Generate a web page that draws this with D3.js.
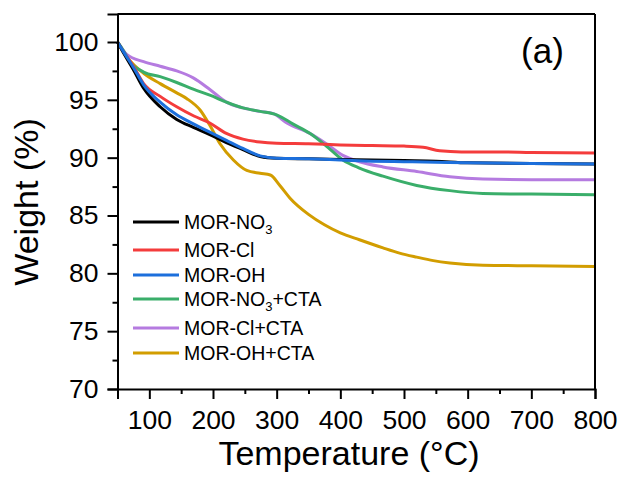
<!DOCTYPE html>
<html><head><meta charset="utf-8">
<script src="https://cdn.jsdelivr.net/npm/d3@7"></script>
<style>body{margin:0;background:#fff}svg{display:block}text{font-family:"Liberation Sans",Arial,sans-serif;fill:#000}</style>
</head><body><svg id="c" width="623" height="484"></svg>
<script>
const seriesNames = ["MOR-NO3","MOR-Cl","MOR-OH","MOR-NO3+CTA","MOR-Cl+CTA","MOR-OH+CTA"];
const seriesColors = ["#000000","#f43c3c","#1c6fdc","#3aae6a","#b57be0","#d29d00"];
const tNO3 = [50,60,75,91,117,143,170,195,221,247,274,300,350,400,450,500,550,600,700,800];
const wNO3 = [100,99.0,97.6,96.0,94.4,93.3,92.6,92.0,91.3,90.7,90.1,89.95,89.9,89.85,89.8,89.75,89.7,89.55,89.5,89.45];
const tCl = [50,60,75,91,117,143,170,195,221,247,274,300,350,400,450,500,530,556,590,650,700,800];
const wCl = [100,99.1,97.9,96.4,95.3,94.4,93.6,93.0,92.1,91.6,91.35,91.25,91.2,91.1,91.05,91.0,90.9,90.6,90.5,90.5,90.45,90.4];
const tOH = [50,60,75,91,117,143,170,195,221,247,274,300,350,400,450,500,550,600,700,800];
const wOH = [100,99.1,97.8,96.3,94.8,93.7,92.9,92.2,91.5,90.8,90.15,89.95,89.9,89.8,89.7,89.65,89.6,89.55,89.5,89.45];
const tNO3CTA = [50,60,68,91,117,143,170,195,221,247,274,300,326,352,378,404,430,467,520,572,624,700,800];
const wNO3CTA = [100,99.2,98.4,97.4,97.0,96.5,95.9,95.4,94.8,94.3,94.0,93.7,92.9,92.1,91.0,89.8,89.1,88.4,87.6,87.15,86.9,86.85,86.8];
const tClCTA = [50,65,91,117,143,169,195,221,247,274,295,316,352,378,404,430,467,520,572,624,700,800];
const wClCTA = [100,98.9,98.3,97.9,97.5,96.9,95.9,94.8,94.3,94.0,93.8,93.0,92.1,91.2,90.2,89.65,89.2,88.8,88.35,88.15,88.1,88.1];
const tOHCTA = [50,65,91,117,143,159,180,195,211,232,253,274,290,305,321,350,375,400,430,467,493,520,546,572,624,700,800];
const wOHCTA = [100,98.7,97.3,96.4,95.6,95.1,94.1,92.8,91.2,89.8,88.9,88.65,88.5,87.6,86.5,85.1,84.2,83.5,82.9,82.2,81.75,81.4,81.1,80.9,80.7,80.65,80.6];
const xTicks = [100,200,300,400,500,600,700,800];
const xMinorTicks = [150,250,350,450,550,650,750];
const yTicks = [70,75,80,85,90,95,100];
const yMinorTicks = [72.5,77.5,82.5,87.5,92.5,97.5];
const xLabel = "Temperature (°C)";
const yLabel = "Weight (%)";
const panelLabel = "(a)";

const temps = [tNO3,tCl,tOH,tNO3CTA,tClCTA,tOHCTA];
const weights = [wNO3,wCl,wOH,wNO3CTA,wClCTA,wOHCTA];

const svg = d3.select("#c");
const L=117.5, R=595, T=14, B=389;
const x = d3.scaleLinear().domain([50,800]).range([L,R]);
const y = d3.scaleLinear().domain([70,102.42]).range([B,T]);

// series
const line = d3.line().x(d=>x(d[0])).y(d=>y(d[1])).curve(d3.curveMonotoneX);
const order = [5,4,3,1,0,2];
order.forEach(i=>{
  const pts = temps[i].map((t,j)=>[t,weights[i][j]]);
  svg.append("path").attr("d",line(pts)).attr("fill","none")
    .attr("stroke",seriesColors[i]).attr("stroke-width",3).attr("stroke-linejoin","round");
});

// axes
const gx = svg.append("g").attr("transform",`translate(0,${B})`)
  .call(d3.axisBottom(x).tickValues(xTicks).tickSize(10).tickPadding(11).tickFormat(d3.format("d")));
const gxm = svg.append("g").attr("transform",`translate(0,${B})`)
  .call(d3.axisBottom(x).tickValues(xMinorTicks).tickSize(5).tickFormat(""));
const gy = svg.append("g").attr("transform",`translate(${L},0)`)
  .call(d3.axisLeft(y).tickValues(yTicks).tickSize(10).tickPadding(9));
const gym = svg.append("g").attr("transform",`translate(${L},0)`)
  .call(d3.axisLeft(y).tickValues(yMinorTicks).tickSize(5).tickFormat(""));
[gx,gxm,gy,gym].forEach(g=>{
  g.selectAll("path").attr("stroke","#000").attr("stroke-width",2);
  g.selectAll("line").attr("stroke","#000").attr("stroke-width",2);
  g.selectAll("text").style("font-size","26.5px").style("font-family","'Liberation Sans',Arial,sans-serif").attr("fill","#000");
});
gxm.select("path").remove(); gym.select("path").remove();
// frame top/right
svg.append("line").attr("x1",L).attr("x2",R).attr("y1",T).attr("y2",T).attr("stroke","#000").attr("stroke-width",2);
svg.append("line").attr("x1",R).attr("x2",R).attr("y1",T).attr("y2",B).attr("stroke","#000").attr("stroke-width",2);

// axis titles
svg.append("text").attr("x",349).attr("y",465).attr("text-anchor","middle").style("font-size","34px").text(xLabel);
svg.append("text").attr("transform","translate(38,202) rotate(-90)").attr("text-anchor","middle").style("font-size","34px").text(yLabel);
svg.append("text").attr("x",542.5).attr("y",62.5).attr("text-anchor","middle").style("font-size","35px").text(panelLabel);

// legend
const legY = [222,250,275,299,328,353];
seriesNames.forEach((n,i)=>{
  svg.append("line").attr("x1",133).attr("x2",179).attr("y1",legY[i]).attr("y2",legY[i])
    .attr("stroke",seriesColors[i]).attr("stroke-width",3);
  const t = svg.append("text").attr("x",184).attr("y",legY[i]+7).style("font-size","19.5px");
  const parts = n.split("3");
  if(parts.length>1){
    t.append("tspan").text(parts[0]);
    t.append("tspan").attr("dy",5).style("font-size","13px").text("3");
    if(parts[1]) t.append("tspan").attr("dy",-5).text(parts[1]);
  } else t.text(n);
});
</script></body></html>
